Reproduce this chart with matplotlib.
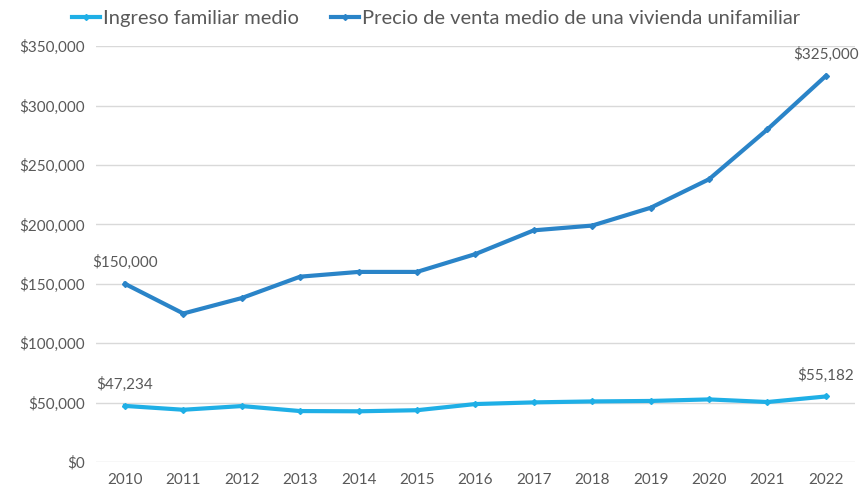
import matplotlib
matplotlib.use('Agg')
import matplotlib.pyplot as plt
from matplotlib.ticker import FuncFormatter

years = [2010, 2011, 2012, 2013, 2014, 2015, 2016, 2017, 2018, 2019, 2020, 2021, 2022]
income = [47234, 44000, 47100, 42900, 42700, 43600, 48800, 50200, 51000, 51400, 52700, 50500, 55182]
price = [150000, 125000, 138000, 156000, 160000, 160000, 175000, 195000, 199000, 214000, 238000, 280000, 325000]

c_income = '#1FAFE6'
c_price = '#2A84C8'
txt = '#595959'

plt.rcParams['font.family'] = ['Lato', 'DejaVu Sans']

fig = plt.figure(figsize=(8.62, 4.91), dpi=100, facecolor='w')
ax = fig.add_axes([0.111, 0.059, 0.881, 0.847])

ax.plot(years, income, color=c_income, lw=3, marker='D', markersize=3, label='Ingreso familiar medio')
ax.plot(years, price, color=c_price, lw=3, marker='D', markersize=3,
        label='Precio de venta medio de una vivienda unifamiliar')

ax.set_xlim(2009.5, 2022.5)
ax.set_ylim(0, 350000)
ax.set_yticks(range(0, 350001, 50000))
ax.set_xticks(years)
ax.yaxis.set_major_formatter(FuncFormatter(lambda v, p: '${:,.0f}'.format(v)))
ax.grid(axis='y', color='#D9D9D9', lw=1)
ax.set_axisbelow(True)
for s in ax.spines.values():
    s.set_visible(False)
ax.tick_params(length=0, labelsize=11, colors=txt, pad=8)

# data labels at the ends
for i in [0, len(years) - 1]:
    ax.annotate('${:,.0f}'.format(price[i]), (years[i], price[i]), xytext=(0, 10),
                textcoords='offset points', ha='center', va='bottom', fontsize=11, color=txt)
    ax.annotate('${:,.0f}'.format(income[i]), (years[i], income[i]), xytext=(0, 10),
                textcoords='offset points', ha='center', va='bottom', fontsize=11, color=txt)

fig.legend(loc='upper center', bbox_to_anchor=(0.506, 1.0), ncol=2, frameon=False,
           fontsize=14.5, labelcolor=txt, handlelength=1.4, handletextpad=0.15, columnspacing=1.6,
           borderaxespad=0.1)

fig.savefig('out.png', dpi=100, facecolor='w')
plt.close()
